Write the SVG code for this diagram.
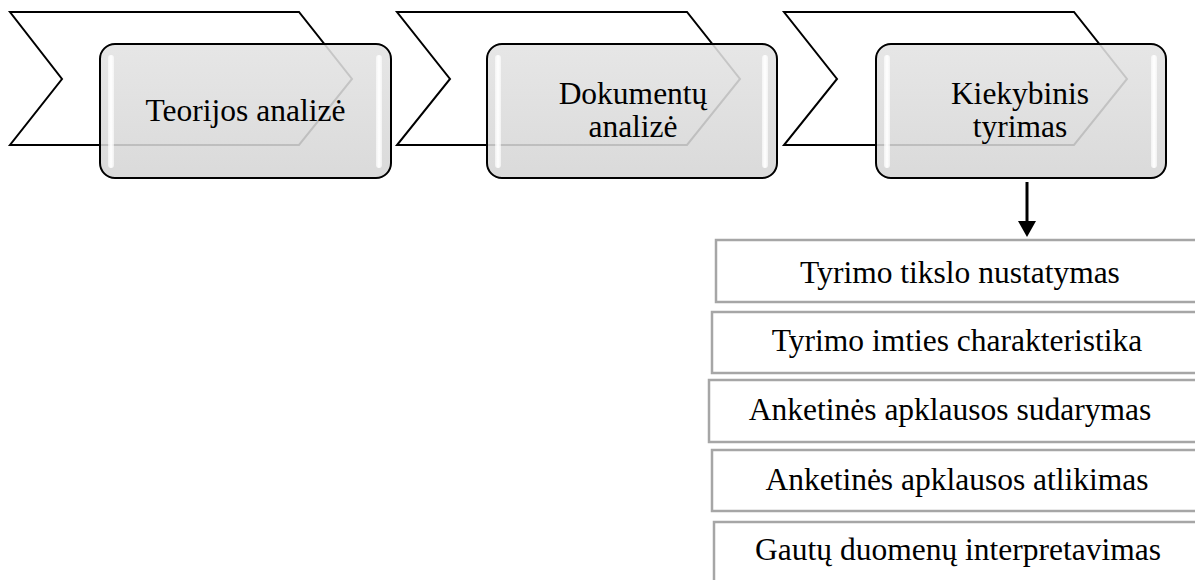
<svg xmlns="http://www.w3.org/2000/svg" width="1195" height="580" viewBox="0 0 1195 580">
<style>
  .chev { fill: #ffffff; stroke: #000000; stroke-width: 2; stroke-linejoin: miter; }
  .card { fill: url(#cardGrad); fill-opacity: 0.88; stroke: #000000; stroke-width: 2; }
  .hl { fill: url(#hlGrad); }
  .t { font-family: "Liberation Serif", "Times New Roman", serif; font-size: 31.5px; fill: #000000; text-anchor: middle; }
  .step { fill: #ffffff; stroke: #a6a6a6; stroke-width: 2.5; }
</style>
<defs>
  <linearGradient id="cardGrad" x1="0" y1="0" x2="0" y2="1">
    <stop offset="0" stop-color="#e3e3e3"/>
    <stop offset="1" stop-color="#d5d5d5"/>
  </linearGradient>
  <linearGradient id="hlGrad" x1="0" y1="0" x2="1" y2="0">
    <stop offset="0" stop-color="#ffffff" stop-opacity="0.6"/>
    <stop offset="0.5" stop-color="#ffffff" stop-opacity="1"/>
    <stop offset="1" stop-color="#ffffff" stop-opacity="0.6"/>
  </linearGradient>
  <marker id="arrow" markerWidth="6" markerHeight="6" refX="0" refY="3" orient="auto" markerUnits="strokeWidth">
    <path d="M0,0 L5.3,3 L0,6 Z" fill="#000000"/>
  </marker>
</defs>
<rect width="1195" height="580" fill="#ffffff"/>

<g id="node-teorijos">
  <polygon class="chev" points="10,12 299,12 352,79 299,145 10,145 62,79"/>
  <rect class="card" x="100" y="44" width="291" height="134" rx="15" ry="15"/>
  <rect class="hl" x="108" y="55" width="6" height="113" rx="3"/>
  <rect class="hl" x="376" y="55" width="6" height="113" rx="3"/>
  <text class="t" x="245.5" y="121">Teorijos analizė</text>
</g>

<g id="node-dokumentu">
  <polygon class="chev" points="397,12 687,12 740,79 687,145 397,145 450,79"/>
  <rect class="card" x="487" y="44" width="290" height="134" rx="15" ry="15"/>
  <rect class="hl" x="495" y="55" width="6" height="113" rx="3"/>
  <rect class="hl" x="762" y="55" width="6" height="113" rx="3"/>
  <text class="t" x="633" y="104">Dokumentų</text>
  <text class="t" x="633" y="137">analizė</text>
</g>

<g id="node-kiekybinis">
  <polygon class="chev" points="784,12 1074,12 1127,79 1074,145 784,145 837,79"/>
  <rect class="card" x="876" y="44" width="290" height="134" rx="15" ry="15"/>
  <rect class="hl" x="884" y="55" width="6" height="113" rx="3"/>
  <rect class="hl" x="1151" y="55" width="6" height="113" rx="3"/>
  <text class="t" x="1020" y="104">Kiekybinis</text>
  <text class="t" x="1020" y="137">tyrimas</text>
</g>

<g id="node-step1">
  <rect class="step" x="716" y="240" width="500" height="62"/>
  <text class="t" x="960" y="283">Tyrimo tikslo nustatymas</text>
</g>
<g id="node-step2">
  <rect class="step" x="712" y="312" width="500" height="61"/>
  <text class="t" x="957" y="351">Tyrimo imties charakteristika</text>
</g>
<g id="node-step3">
  <rect class="step" x="709" y="380" width="500" height="62"/>
  <text class="t" x="950" y="420">Anketinės apklausos sudarymas</text>
</g>
<g id="node-step4">
  <rect class="step" x="712" y="450" width="500" height="61"/>
  <text class="t" x="957" y="490">Anketinės apklausos atlikimas</text>
</g>
<g id="node-step5">
  <rect class="step" x="714" y="522" width="500" height="80"/>
  <text class="t" x="958" y="560">Gautų duomenų interpretavimas</text>
</g>

<g id="connectors">
  <line x1="1027" y1="182" x2="1027" y2="221" stroke="#000000" stroke-width="3" marker-end="url(#arrow)"/>
</g>
</svg>
